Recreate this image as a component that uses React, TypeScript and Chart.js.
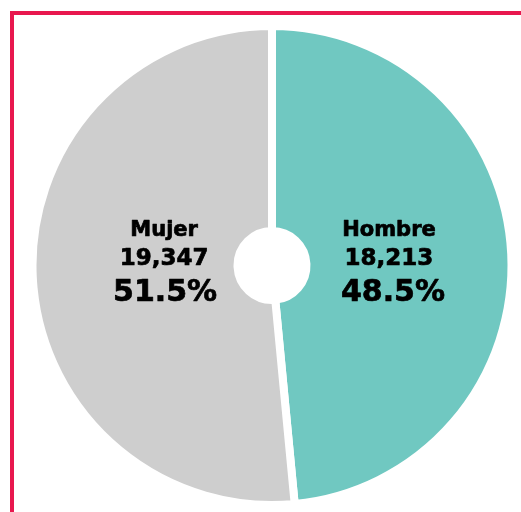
import React, { useEffect, useRef } from "react";
import { Chart, registerables } from "chart.js";

Chart.register(...registerables);

const categories = ["Hombre", "Mujer"];
const values = [18213, 19347];
const colors = ["#70c8c1", "#cecece"];

const labelPlugin = {
  id: "sliceLabels",
  afterDatasetsDraw(chart: any, _args: any, opts: any) {
    const { ctx } = chart;
    const meta = chart.getDatasetMeta(0);
    const data = chart.data.datasets[0].data as number[];
    const total = data.reduce((a, b) => a + b, 0);
    meta.data.forEach((arc: any, i: number) => {
      const { x, y, startAngle, endAngle, outerRadius } = arc.getProps(
        ["x", "y", "startAngle", "endAngle", "outerRadius"],
        true
      );
      const mid = (startAngle + endAngle) / 2;
      const d = outerRadius * opts.radiusFactor[i];
      const lx = x + Math.cos(mid) * d;
      const ly = y;
      ctx.save();
      ctx.fillStyle = "#000000";
      ctx.strokeStyle = "#000000";
      ctx.lineWidth = 0.7;
      ctx.lineJoin = "round";
      ctx.textAlign = "center";
      ctx.textBaseline = "alphabetic";
      const draw = (t: string, px: number, py: number) => {
        ctx.fillText(t, px, py);
        ctx.strokeText(t, px, py);
      };
      ctx.font = "bold 21px 'DejaVu Sans'";
      draw(chart.data.labels[i], lx, ly - 29.5);
      ctx.font = "bold 23px 'DejaVu Sans'";
      draw(data[i].toLocaleString("en-US"), lx, ly - 0.5);
      ctx.font = "bold 30px 'DejaVu Sans'";
      draw(((data[i] / total) * 100).toFixed(1) + "%", lx + opts.pctShift[i], ly + 35);
      ctx.restore();
    });
  },
};

export default function App() {
  const ref = useRef<HTMLCanvasElement>(null);
  useEffect(() => {
    if (!ref.current) return;
    const chart = new Chart(ref.current, {
      type: "doughnut",
      data: {
        labels: categories,
        datasets: [
          {
            data: values,
            backgroundColor: colors,
            borderColor: "#ffffff",
            borderWidth: 8,
            hoverOffset: 0,
          },
        ],
      },
      options: {
        responsive: false,
        animation: false,
        cutout: "14.4%",
        events: [],
        layout: { padding: { left: 28.5, right: 5.5, top: 22, bottom: 3 } },
        plugins: {
          legend: { display: false },
          tooltip: { enabled: false },
          sliceLabels: { radiusFactor: [0.489, 0.451], pctShift: [4, 1] },
        } as any,
      },
      plugins: [labelPlugin],
    });
    return () => chart.destroy();
  }, []);
  return (
    <div>
      <div
        style={{
          position: "fixed",
          left: 10,
          top: 11,
          right: 0,
          bottom: 0,
          borderTop: "4px solid #e8174e",
          borderLeft: "4px solid #e8174e",
        }}
      />
      <canvas
        ref={ref}
        width={521}
        height={512}
        style={{ position: "fixed", left: 0, top: 0, width: 521, height: 512 }}
      />
    </div>
  );
}
